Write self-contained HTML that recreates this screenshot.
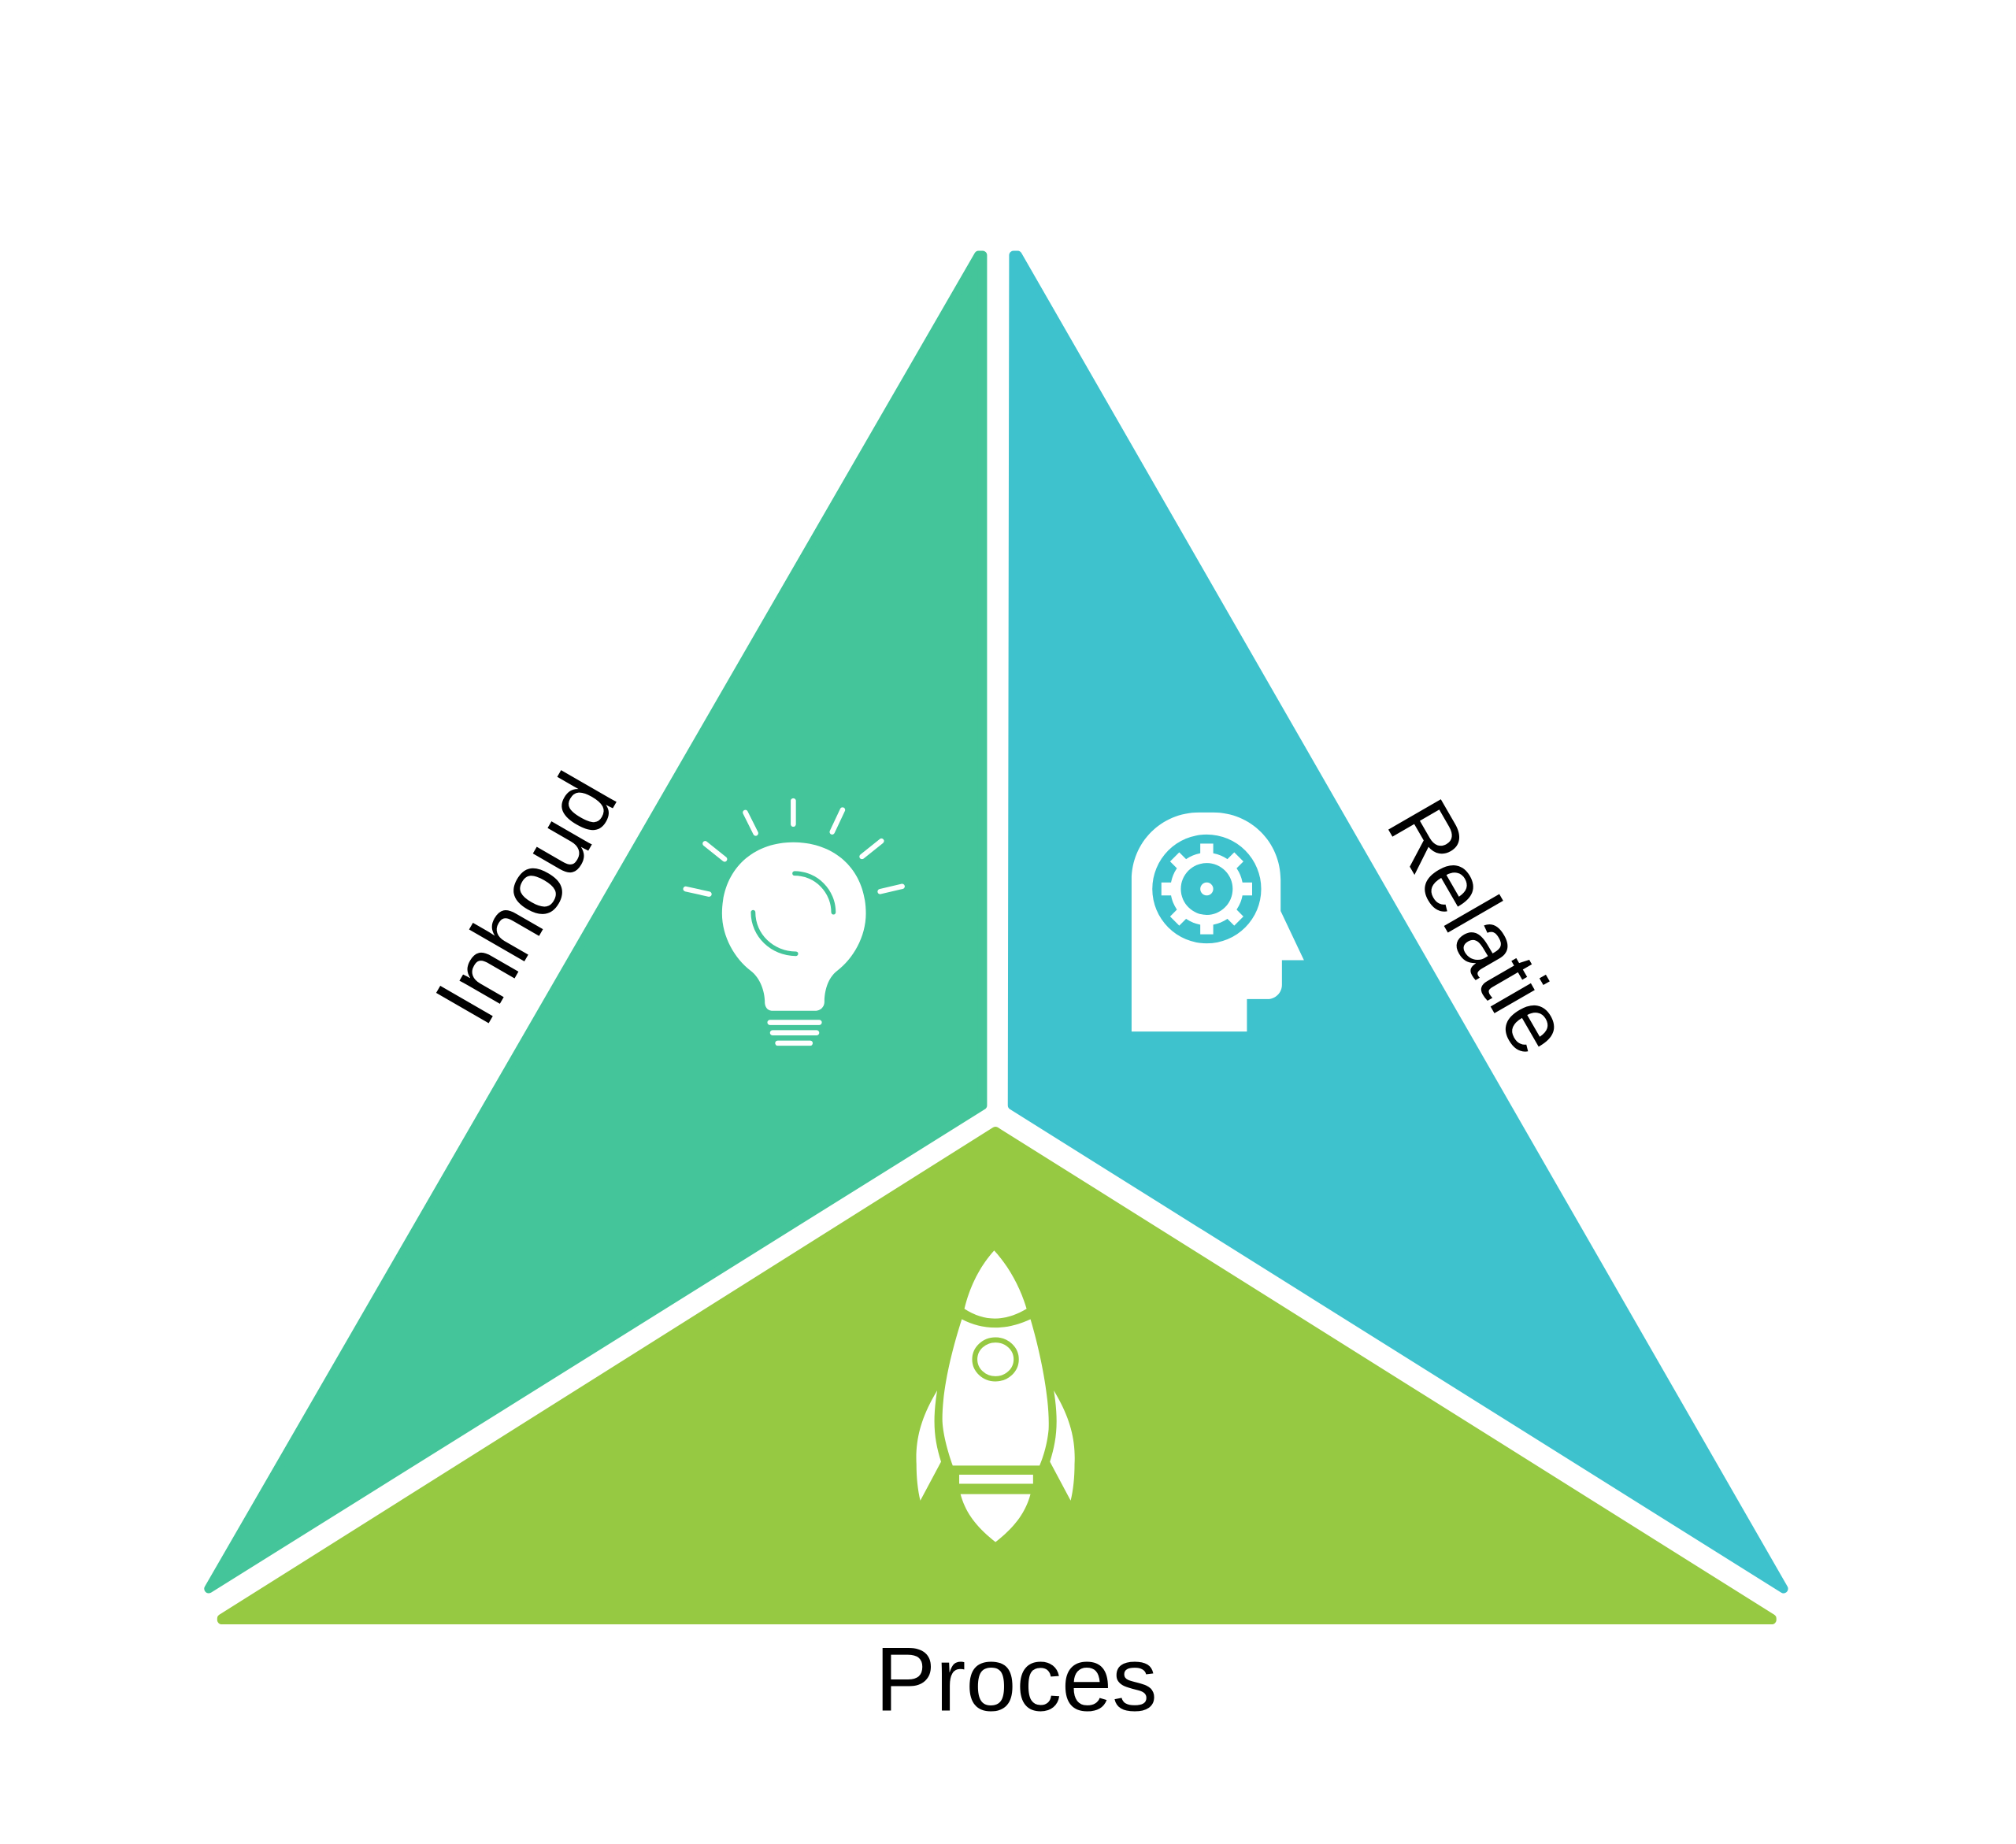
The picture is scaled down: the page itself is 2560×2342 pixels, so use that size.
<!DOCTYPE html>
<html><head><meta charset="utf-8"><style>html,body{margin:0;padding:0;background:#fff}svg{display:block}</style></head>
<body>
<svg width="2560" height="2342" viewBox="0 0 1555.3 1423" xmlns="http://www.w3.org/2000/svg">
<rect width="1555.3" height="1423" fill="#fff"/>
<g stroke-linejoin="round" stroke-width="7">
<polygon points="755,197 758,197 758,853 161,1226" fill="#44c59a" stroke="#44c59a"/>
<polygon points="782,197 785,197 1376,1226 781,853" fill="#3ec2cd" stroke="#3ec2cd"/>
<polygon points="768,873 1367,1249 1367,1250 171,1250 171,1249" fill="#96c942" stroke="#96c942"/>
</g>
<g font-family="'Liberation Sans',sans-serif" fill="#000">
<text x="784" y="1320" font-size="70" text-anchor="middle">Proces</text>
<text transform="translate(405,693) rotate(-60)" x="0" y="24" font-size="68" text-anchor="middle">Inhoud</text>
<text transform="translate(1142,715) rotate(60)" x="0" y="24" font-size="68" text-anchor="middle">Relatie</text>
</g>
<!-- lightbulb -->
<g fill="#fff" stroke="#fff">
<path d="M612,650 C645,650 668,672 668,705 C668,723 658,740 646,749 C638,755 636,766 636,773 C636,777 633,780 629,780 L596,780 C592,780 590,777 590,773 C590,766 587,755 579,749 C567,740 557,723 557,705 C557,672 580,650 612,650Z" stroke="none"/>
<g stroke-width="4" stroke-linecap="round">
<line x1="594" y1="789" x2="632" y2="789"/><line x1="596" y1="797" x2="630" y2="797"/><line x1="600" y1="805" x2="625" y2="805"/>
<line x1="612" y1="618" x2="612" y2="636"/>
<line x1="575" y1="627" x2="583" y2="643"/>
<line x1="650" y1="625" x2="642" y2="642"/>
<line x1="544" y1="651" x2="559" y2="663"/>
<line x1="680" y1="649" x2="665" y2="661"/>
<line x1="529" y1="686" x2="547" y2="690"/>
<line x1="696" y1="684" x2="679" y2="688"/>
</g>
</g>
<g fill="none" stroke="#44c59a" stroke-width="3.5" stroke-linecap="round">
<path d="M613,674 C630,674 643,688 643,704"/>
<path d="M581,704 C581,722 596,736 614,736"/>
</g>
<!-- head -->
<path d="M928,627 L936,627 C965,627 988,650 988,679 L988,703 L1006,741 L989,741 L989,760 C989,766 984,771 978,771 L962,771 L962,796 L873,796 L873,679 C873,650 896,627 925,627Z" fill="#fff"/>
<circle cx="931" cy="686" r="42" fill="#3ec2cd"/>
<g transform="translate(931,686)" fill="#fff">
<circle r="28"/>
<g id="t"><rect x="-5" y="-35" width="10" height="10"/></g>
<use href="#t" transform="rotate(45)"/><use href="#t" transform="rotate(90)"/><use href="#t" transform="rotate(135)"/>
<use href="#t" transform="rotate(180)"/><use href="#t" transform="rotate(225)"/><use href="#t" transform="rotate(270)"/><use href="#t" transform="rotate(315)"/>
<circle r="20" fill="#3ec2cd"/>
<circle r="5"/>
</g>
<!-- rocket -->
<g fill="#fff">
<path d="M767,965 C756,977 748,993 744,1010 Q767,1025 792,1010 C787,993 778,977 767,965Z"/>
<path d="M742,1018 Q767,1031 795,1018 C803,1045 810,1080 809,1103 C808,1114 805,1124 802,1131 L735,1131 C731,1120 727,1105 727,1095 C727,1072 734,1043 742,1018Z"/>
<path d="M723,1073 C711,1093 706,1110 707,1130 C707,1140 708,1150 710,1158 L726,1128 C721,1112 719,1098 723,1073Z"/>
<path d="M813,1073 C825,1093 830,1110 829,1130 C829,1140 828,1150 826,1158 L810,1128 C815,1112 817,1098 813,1073Z"/>
<rect x="740" y="1138" width="57" height="7"/>
<path d="M741,1153 L795,1153 C791,1168 782,1179 768,1190 C754,1179 745,1168 741,1153Z"/>
</g>
<ellipse cx="768" cy="1049" rx="16" ry="15" fill="#fff" stroke="#96c942" stroke-width="4"/>
</svg>
</body></html>
